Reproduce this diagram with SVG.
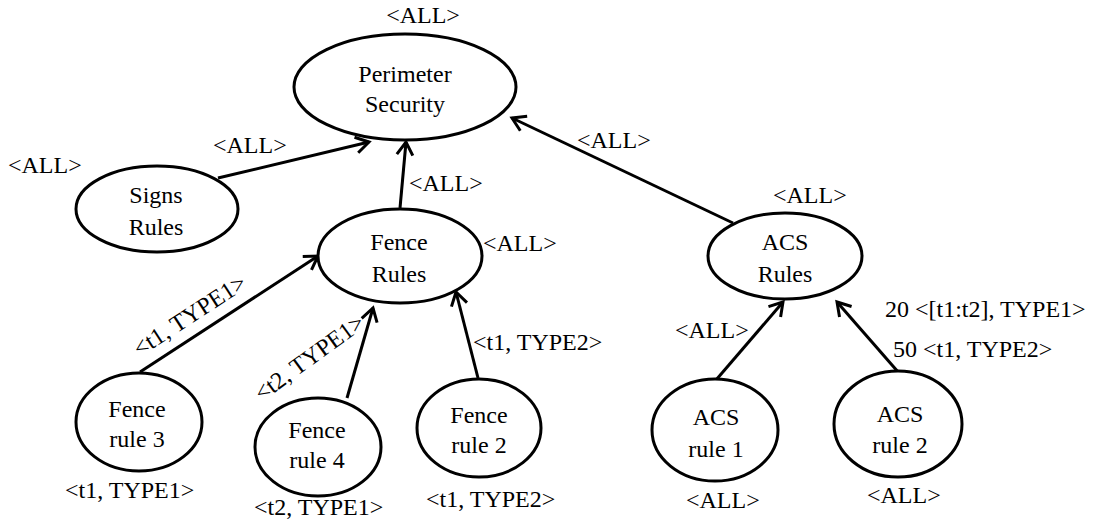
<svg xmlns="http://www.w3.org/2000/svg" width="1098" height="523" viewBox="0 0 1098 523">
<defs>
<marker id="arr" markerUnits="userSpaceOnUse" markerWidth="22" markerHeight="22" viewBox="0 0 22 22" refX="17" refY="11" orient="auto">
<path d="M4,3 L17,11 L4,19" fill="none" stroke="#000" stroke-width="3" stroke-linejoin="miter"/>
</marker>
<style>
ellipse{fill:#fff;stroke:#000;stroke-width:3}
text{font-family:"Liberation Serif","Times New Roman",serif;font-size:24px;fill:#000}
.c{text-anchor:middle}
.e line{stroke:#000;stroke-width:3;marker-end:url(#arr)}
</style>
</defs>
<rect width="1098" height="523" fill="#fff"/>
<g class="e" id="connectors">
<line x1="218" y1="178" x2="369" y2="142"/>
<line x1="400" y1="208" x2="406" y2="142"/>
<line x1="733" y1="223" x2="512" y2="118"/>
<line x1="140" y1="372" x2="318" y2="256"/>
<line x1="347" y1="398" x2="373" y2="308"/>
<line x1="478" y1="378" x2="456" y2="292"/>
<line x1="716" y1="380" x2="783" y2="302"/>
<line x1="899" y1="373" x2="837" y2="302"/>
</g>
<g id="edge-labels">
<text x="213" y="153">&lt;ALL&gt;</text>
<text x="409" y="191">&lt;ALL&gt;</text>
<text x="577" y="148">&lt;ALL&gt;</text>
<text class="c" transform="translate(194,322) rotate(-33)">&lt;t1, TYPE1&gt;</text>
<text class="c" transform="translate(314,364) rotate(-36)">&lt;t2, TYPE1&gt;</text>
<text x="473" y="350">&lt;t1, TYPE2&gt;</text>
<text x="675" y="338">&lt;ALL&gt;</text>
<text x="885" y="317">20 &lt;[t1:t2], TYPE1&gt;</text>
<text x="893" y="357">50 &lt;t1, TYPE2&gt;</text>
</g>
<g id="perimeter">
<ellipse cx="405" cy="87" rx="111" ry="53"/>
<text class="c" x="405" y="82">Perimeter</text>
<text class="c" x="405" y="112">Security</text>
<text class="c" x="423" y="23">&lt;ALL&gt;</text>
</g>
<g id="signs">
<ellipse cx="157" cy="209" rx="81" ry="43"/>
<text class="c" x="156" y="203">Signs</text>
<text class="c" x="156" y="235">Rules</text>
<text x="8" y="173">&lt;ALL&gt;</text>
</g>
<g id="fence">
<ellipse cx="400" cy="256" rx="82" ry="47"/>
<text class="c" x="399" y="250">Fence</text>
<text class="c" x="399" y="282">Rules</text>
<text x="483" y="251">&lt;ALL&gt;</text>
</g>
<g id="acs">
<ellipse cx="785" cy="256" rx="77" ry="43"/>
<text class="c" x="785" y="250">ACS</text>
<text class="c" x="785" y="282">Rules</text>
<text x="773" y="203">&lt;ALL&gt;</text>
</g>
<g id="fence-rule-3">
<ellipse cx="139" cy="422" rx="63" ry="49"/>
<text class="c" x="137" y="417">Fence</text>
<text class="c" x="137" y="447">rule 3</text>
<text x="65" y="498">&lt;t1, TYPE1&gt;</text>
</g>
<g id="fence-rule-4">
<ellipse cx="318" cy="447" rx="63" ry="49"/>
<text class="c" x="317" y="438">Fence</text>
<text class="c" x="317" y="468">rule 4</text>
<text x="254" y="515">&lt;t2, TYPE1&gt;</text>
</g>
<g id="fence-rule-2">
<ellipse cx="479" cy="428" rx="62" ry="49"/>
<text class="c" x="479" y="423">Fence</text>
<text class="c" x="479" y="453">rule 2</text>
<text x="426" y="507">&lt;t1, TYPE2&gt;</text>
</g>
<g id="acs-rule-1">
<ellipse cx="715" cy="430" rx="63" ry="51"/>
<text class="c" x="716" y="425">ACS</text>
<text class="c" x="716" y="457">rule 1</text>
<text x="686" y="508">&lt;ALL&gt;</text>
</g>
<g id="acs-rule-2">
<ellipse cx="898" cy="424" rx="64" ry="53"/>
<text class="c" x="900" y="422">ACS</text>
<text class="c" x="900" y="453">rule 2</text>
<text x="867" y="503">&lt;ALL&gt;</text>
</g>
</svg>
